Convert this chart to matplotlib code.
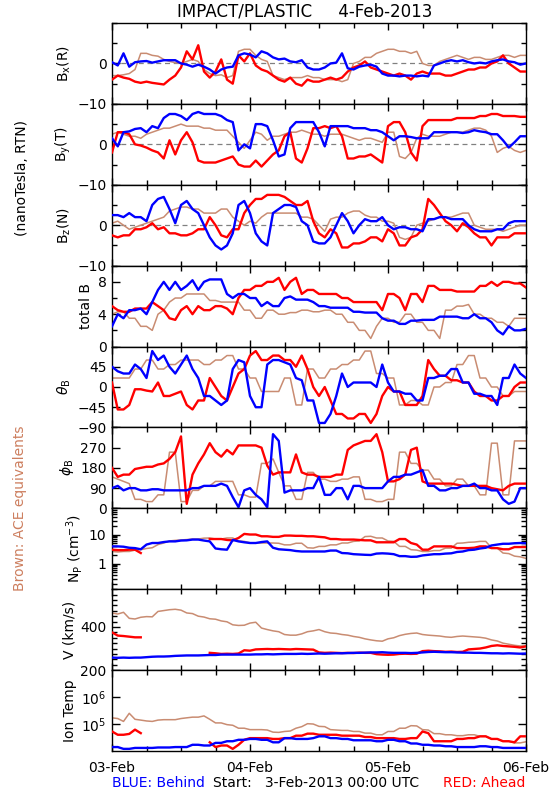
import numpy as np
import matplotlib
matplotlib.use("Agg")
import matplotlib.pyplot as plt
from matplotlib.ticker import FixedLocator, FixedFormatter, MultipleLocator, NullFormatter, LogLocator, NullLocator

nan = np.nan
hours = np.arange(73)  # hours since 3-Feb-2013 00:00 UTC

day_ticks = [0, 24, 48, 72]
day_labels = ["03-Feb", "04-Feb", "05-Feb", "06-Feb"]

# ---- B_x (R) ----
bx_behind = [0.3,-0.5,2.5,-0.8,0.3,0.5,0.6,0.2,0.5,0.8,
             0.8,0.8,0.0,-0.3,-0.8,-0.3,-0.8,-1.5,-2.5,-1.5,
             -1.0,-0.8,2.0,2.5,2.2,1.5,3.0,2.5,1.5,1.0,
             1.2,0.5,0.3,0.8,-1.0,-1.5,-1.5,-1.0,0.0,0.2,
             2.5,-1.2,-1.5,-0.8,-0.5,-0.3,-0.8,-2.5,-3.0,-3.0,
             -3.2,-3.0,-3.0,-3.2,-3.0,-3.2,-0.5,0.0,0.5,0.8,
             0.5,0.8,0.3,0.0,0.2,0.0,0.5,0.8,1.0,0.5,
             0.3,-0.3,0.0]
bx_ahead = [-4.0,-3.0,-3.5,-3.8,-4.5,-4.8,-4.5,-4.8,-5.0,-5.2,
            -4.0,-3.0,-1.0,3.0,1.0,4.5,-2.0,-3.5,-2.0,1.0,
            -4.0,-5.0,2.0,0.5,2.5,-0.5,-1.5,-2.0,-3.0,-4.0,
            -4.5,-3.5,-5.0,-5.5,-4.0,-4.5,-4.5,-4.0,-3.5,-4.0,
            -3.5,-2.0,-1.0,-0.5,0.5,-1.0,-1.5,-2.0,-2.5,-3.0,
            -2.5,-3.0,-4.0,-2.5,-2.0,-2.5,-2.5,-2.5,-3.0,-3.0,
            -2.5,-2.0,-1.5,-1.5,-1.0,-1.0,0.0,0.5,2.0,0.0,
            -1.0,-2.0,-2.0]
bx_ace = [-3.0,-3.0,-2.8,-2.5,-1.5,2.5,2.5,2.0,1.8,1.0,
          0.5,0.2,0.0,0.5,1.0,0.5,-1.5,-2.5,-3.0,-2.8,
          -3.5,-3.0,3.0,3.5,3.5,2.0,1.0,0.5,-3.0,-3.5,
          -4.0,-3.5,-3.5,-3.5,-3.0,-3.5,-3.5,-4.0,-4.0,-4.0,
          -4.5,-4.0,0.0,0.5,1.5,1.5,2.5,3.0,3.5,3.5,
          3.0,3.0,2.5,3.0,0.0,-0.5,-0.5,0.5,1.0,1.5,
          2.0,1.5,1.0,1.5,1.5,1.0,1.0,1.5,2.0,2.0,
          1.5,2.0,2.0]

# ---- B_y (T) ----
by_behind = [1.5,-0.5,3.0,3.2,3.8,4.0,3.0,4.5,4.0,6.5,
             7.5,7.5,7.0,6.0,7.5,8.0,7.5,7.5,7.5,7.0,
             6.0,5.5,-1.5,0.0,-1.0,5.0,5.0,4.5,1.0,-3.0,
             -2.5,4.0,5.5,5.5,5.5,5.5,3.0,-0.5,4.5,4.5,
             4.5,4.5,4.0,4.0,4.0,3.5,3.5,3.0,2.0,1.0,
             2.0,2.0,1.8,1.5,1.5,1.5,3.0,3.0,3.0,3.0,
             3.0,2.8,3.0,3.5,3.2,3.0,2.5,2.5,1.0,-0.8,
             0.5,2.0,2.0]
by_ahead = [-2.0,3.0,3.0,2.5,0.0,-0.3,-0.8,-1.5,-2.0,-3.5,
            1.0,-2.5,1.0,3.0,0.5,-4.0,-4.5,-4.5,-4.5,-4.0,
            -3.5,-3.0,-5.0,-5.5,-5.5,-4.0,-5.5,-4.0,-2.5,-1.5,
            2.0,3.0,-3.5,-4.5,-1.0,4.0,4.0,4.5,4.0,4.5,
            2.0,-3.5,-3.5,-3.0,-3.0,-2.5,-3.5,-4.5,4.5,5.5,
            5.5,3.0,-2.0,-4.0,4.5,6.0,6.0,6.0,6.0,6.0,
            6.5,6.5,6.5,6.5,7.0,7.0,7.5,7.5,7.0,7.0,
            7.0,6.8,6.8]
by_ace = [2.5,3.0,2.5,2.0,2.0,1.5,2.5,3.0,3.5,4.0,
          4.0,4.5,5.0,4.5,4.5,4.5,4.0,4.0,3.5,3.5,
          3.5,2.0,0.5,-1.0,1.0,3.0,2.5,1.0,2.0,2.0,
          2.5,3.0,3.0,3.5,3.0,2.5,2.5,2.0,2.5,2.5,
          2.5,2.0,1.5,1.0,1.5,1.5,1.0,0.5,3.0,3.0,
          -3.0,-3.5,-2.0,1.5,2.5,2.0,2.0,2.0,2.5,3.0,
          3.0,3.0,3.5,4.0,4.0,3.5,2.0,-2.0,-1.0,-0.5,
          -1.5,-2.0,-1.5]

# ---- B_z (N) ----
bz_behind = [2.5,2.5,2.0,3.0,2.0,2.0,1.0,5.0,6.5,7.0,
             4.0,0.5,5.0,6.0,4.0,3.0,0.0,-3.0,-5.0,-6.0,
             -5.0,-2.0,5.0,6.0,3.0,-2.0,-4.0,-5.0,3.0,4.0,
             5.0,5.0,4.5,1.0,0.0,-4.0,-4.5,-4.5,-3.0,0.0,
             3.0,1.0,-2.0,0.0,1.5,1.0,1.0,2.0,0.0,-1.0,
             -0.5,-0.5,-1.0,-1.0,-1.5,1.5,1.5,2.0,2.0,1.5,
             1.5,1.5,0.0,-1.0,-1.5,-1.5,-1.5,-1.0,-1.0,0.5,
             1.0,1.0,1.0]
bz_ahead = [-2.5,-3.0,-2.5,-2.5,-1.0,-1.0,-0.5,0.5,-1.0,-0.5,
            -2.0,-2.0,-2.5,-2.5,-2.0,-1.0,-1.0,2.0,0.0,-2.5,
            -3.0,-1.0,-1.0,3.0,5.0,6.5,6.5,7.5,7.5,7.5,
            7.0,6.0,5.0,5.0,6.0,1.0,-2.0,-3.0,-1.0,-2.0,
            -5.5,-5.5,-4.5,-4.5,-4.0,-3.0,-3.0,-4.0,-1.0,-2.0,
            -5.0,-5.0,-3.0,-2.5,-1.0,6.5,5.0,3.0,1.0,0.0,
            -1.5,0.5,-0.5,-2.0,-3.0,-3.0,-5.0,-3.0,-3.0,-3.0,
            -2.0,-2.0,-2.0]
bz_ace = [0.5,1.0,0.0,-1.0,-0.5,0.0,0.5,1.0,1.5,2.0,
          3.5,4.0,4.5,4.5,4.0,4.0,3.0,3.0,3.0,4.0,
          4.0,2.0,1.0,0.0,1.0,0.5,2.0,3.0,3.0,3.0,
          3.0,3.0,3.0,2.0,2.0,1.5,0.0,-1.5,1.5,2.0,
          2.0,3.0,3.5,3.5,2.5,2.0,2.0,1.0,1.0,0.5,
          -3.0,-3.5,-3.0,0.0,0.5,1.0,1.5,2.0,2.0,2.0,
          2.5,3.0,3.0,0.0,-0.5,-1.0,-1.0,-1.0,-1.5,-1.0,
          -0.5,0.0,0.0]

# ---- total B ----
bt_behind = [2.5,4.0,3.5,4.5,4.5,4.7,4.0,5.5,7.0,8.0,
             7.0,8.0,7.0,7.5,8.2,7.0,8.0,8.3,8.3,8.3,
             6.5,6.0,6.5,6.5,6.0,6.0,5.0,5.5,5.0,5.0,
             6.0,6.2,5.8,5.8,5.8,5.5,5.0,5.0,4.8,4.8,
             4.8,4.8,4.3,4.3,4.2,4.2,4.2,3.5,3.2,3.2,
             2.8,2.8,3.2,3.2,3.3,3.3,3.3,3.7,3.7,3.7,
             3.7,3.5,3.5,4.0,3.5,3.5,3.0,2.0,1.5,2.5,
             2.0,2.0,2.2]
bt_ahead = [5.0,4.5,4.3,4.3,4.7,4.7,4.7,5.5,5.0,4.5,
            3.5,3.3,4.5,5.0,4.0,5.0,4.5,4.5,5.0,5.0,
            4.7,4.0,6.0,7.0,7.0,7.5,7.5,8.0,8.0,8.5,
            7.0,8.0,8.5,6.5,7.0,7.0,6.5,6.5,6.5,6.5,
            6.0,6.0,5.5,5.5,5.5,5.5,5.5,4.5,6.5,6.5,
            6.0,4.5,6.5,6.5,5.5,7.5,7.5,7.0,7.0,7.0,
            6.8,6.8,6.8,6.8,7.5,7.5,8.0,7.5,8.0,8.0,
            7.8,7.8,7.3]
bt_ace = [4.0,4.3,4.3,3.5,3.5,2.5,2.5,2.0,4.0,4.5,
          5.5,6.0,6.0,6.5,6.5,6.5,6.5,5.7,5.7,5.5,
          5.5,5.5,5.5,4.5,4.5,3.5,3.5,4.5,4.5,4.0,
          4.0,4.2,4.2,4.5,4.5,4.3,4.3,4.5,4.5,4.0,
          4.0,3.0,3.0,2.0,2.0,1.0,2.5,3.5,3.5,3.0,
          3.0,4.0,4.0,3.0,3.0,2.0,2.0,1.0,4.5,4.5,
          5.0,5.0,5.2,4.0,4.0,3.5,3.5,3.0,3.0,2.5,
          3.5,3.5,3.5]

# ---- theta_B (deg) ----
th_behind = [45,35,30,30,50,40,20,80,60,70,
             45,30,50,70,40,20,-20,-20,-30,-40,
             -30,40,60,55,-20,-45,-45,50,60,60,
             55,50,20,15,-30,-30,-80,-80,-60,-20,
             30,0,10,10,10,10,0,50,10,-10,
             -10,-15,-15,-30,-30,20,20,25,25,40,
             40,10,10,-15,-15,-20,-20,-40,20,20,
             50,30,20]
th_ahead = [10,-50,-50,-40,-5,-5,-8,-10,10,-20,
            -20,-15,-10,-40,-50,-30,-30,20,0,-20,
            -30,0,30,40,70,80,60,60,70,70,
            60,60,45,70,40,0,-20,0,-30,-60,
            -60,-70,-70,-60,-60,-80,-60,-20,0,-10,
            -10,-40,-40,-40,-20,60,40,25,25,15,
            15,10,10,-10,-20,-20,-30,-30,-20,-20,
            0,10,10]
th_ace = [20,20,20,20,40,40,60,60,40,40,
          50,50,60,60,60,60,50,50,60,60,
          70,70,40,40,20,20,-10,-10,-10,-10,
          20,20,-40,-40,40,40,20,20,40,40,
          50,50,60,60,80,80,30,30,20,20,
          -40,-40,-30,-30,-40,-40,0,0,10,10,
          50,50,70,70,20,20,0,0,-20,-20,
          -10,-10,-10]

# ---- phi_B (deg) ----
ph_behind = [90,100,80,90,90,80,80,85,85,80,
             80,80,80,80,90,90,100,100,100,110,
             100,50,5,80,90,60,40,5,330,300,
             70,80,80,80,90,90,140,60,60,90,
             90,40,100,100,90,90,90,90,120,140,
             140,150,150,160,170,100,100,80,80,90,
             90,100,100,110,90,90,80,80,40,20,
             30,90,90]
ph_ahead = [180,140,150,150,175,180,185,185,195,200,
            220,250,320,20,150,200,240,290,250,230,
            260,240,280,280,280,280,270,190,150,160,
            160,160,240,160,150,150,140,140,140,150,
            150,260,280,290,300,300,330,250,120,120,
            130,150,260,270,120,110,110,110,110,110,
            105,100,100,100,100,100,90,85,80,100,
            110,110,110]
ph_ace = [140,130,120,110,40,40,30,30,60,60,
          250,250,30,30,80,80,100,100,120,120,
          120,120,60,60,50,50,200,200,220,160,
          100,100,40,40,160,160,130,130,120,120,
          130,130,140,140,40,40,30,30,40,40,
          250,250,200,200,170,170,130,130,100,100,
          130,130,100,100,60,60,290,290,60,60,
          300,300,300]

# ---- N_p (cm^-3) ----
np_behind = [3.9,3.9,3.8,3.5,3.4,3.1,4.5,5.1,5.1,5.5,
             5.8,5.8,6.2,6.3,6.7,6.7,6.2,5.8,3.3,3.1,
             3.0,6.5,5.8,5.4,5.1,5.1,5.5,5.8,3.5,3.1,
             3.0,2.9,2.7,2.6,2.6,2.6,2.6,2.6,2.8,2.8,
             2.3,2.25,2.1,2.05,2.0,1.97,2.2,2.25,2.2,2.1,
             1.8,1.8,1.7,1.72,1.9,2.0,2.1,2.1,2.2,2.25,
             2.5,2.6,2.9,3.0,3.3,3.5,4.2,4.5,4.8,4.8,
             5.0,5.1,5.0]
np_ahead = [3.0,2.9,2.9,3.0,3.0,2.3,nan,nan,nan,nan,
            nan,nan,nan,nan,nan,nan,nan,7.0,7.0,7.0,
            6.5,6.3,7.6,10.5,10.0,10.0,8.7,8.7,8.3,8.3,
            9.2,9.2,9.0,9.0,8.7,8.7,8.3,8.0,7.0,7.0,
            6.7,6.7,6.7,6.5,6.3,6.3,5.4,5.4,5.4,5.4,
            7.0,7.0,5.1,4.5,3.0,3.0,3.9,3.9,3.9,3.9,
            3.4,3.4,3.4,3.5,3.9,3.9,3.4,3.4,3.1,3.1,
            3.7,3.7,3.7]
np_ace = [2.6,2.5,2.6,2.6,2.9,3.0,3.3,3.5,4.5,5.1,
          6.0,6.3,6.5,6.7,7.0,7.0,7.5,7.6,7.0,7.0,
          7.6,7.6,6.0,5.8,5.2,5.1,5.1,5.1,5.1,5.0,
          4.4,4.4,5.0,5.0,3.5,3.4,3.9,3.9,4.4,4.4,
          5.1,5.1,5.8,6.0,8.5,8.7,7.6,7.6,6.0,5.8,
          3.9,3.9,3.0,2.9,2.6,2.6,2.8,2.8,3.4,3.4,
          5.0,5.1,5.4,5.5,5.8,5.8,3.5,3.4,2.3,2.2,
          1.8,1.7,1.5]

# ---- V (km/s) ----
v_behind = [258,257,258,257,258,258,260,262,263,263,
            264,266,267,268,268,268,269,270,270,272,
            272,272,272,272,272,273,273,274,273,274,
            275,275,275,276,275,276,277,276,277,278,
            278,279,280,280,281,282,282,283,281,280,
            280,280,279,280,282,284,285,284,283,283,
            282,281,281,280,280,279,278,278,277,278,
            277,276,277]
v_ahead = [375,360,358,355,352,352,nan,nan,nan,nan,
           nan,nan,nan,nan,nan,nan,nan,280,278,275,
           276,275,277,292,290,296,297,298,297,298,
           297,296,298,297,296,295,282,280,281,280,
           279,280,279,281,280,280,274,272,271,272,
           275,276,275,276,288,290,288,287,285,286,
           284,285,296,298,300,305,312,315,312,310,
           308,305,310]
v_ace = [465,460,468,440,437,445,448,447,472,476,
         480,482,478,465,462,450,446,438,436,428,
         424,410,407,408,418,422,395,388,382,378,
         365,362,362,368,378,382,388,378,372,370,
         365,362,356,352,345,340,336,334,345,350,
         360,366,370,372,365,362,360,358,354,352,
         356,358,356,354,352,348,340,335,325,320,
         315,312,312]

# ---- Ion temperature (K) ----
t_behind = [1.4e4,1.4e4,1.2e4,1.2e4,1.3e4,1.3e4,1.3e4,1.3e4,1.35e4,1.35e4,
            1.35e4,1.4e4,1.4e4,1.4e4,1.7e4,1.7e4,1.6e4,1.6e4,2.0e4,2.0e4,
            2.3e4,2.3e4,2.6e4,2.6e4,2.8e4,2.8e4,2.6e4,2.6e4,2.1e4,2.1e4,
            3.0e4,3.0e4,2.8e4,2.8e4,2.8e4,3.0e4,3.5e4,3.5e4,3.0e4,3.0e4,
            2.8e4,2.8e4,2.5e4,2.5e4,2.5e4,2.5e4,2.3e4,2.3e4,2.6e4,2.6e4,
            2.3e4,2.3e4,1.9e4,1.9e4,1.7e4,1.7e4,1.6e4,1.6e4,1.5e4,1.5e4,
            1.4e4,1.4e4,1.4e4,1.4e4,1.5e4,1.5e4,1.4e4,1.4e4,1.3e4,1.3e4,
            1.3e4,1.3e4,1.3e4]
t_ahead = [5.3e4,4.0e4,4.0e4,4.3e4,6.2e4,4.6e4,nan,nan,nan,nan,
           nan,nan,nan,nan,nan,nan,nan,2.1e4,1.4e4,1.6e4,
           1.6e4,1.2e4,1.7e4,2.6e4,3.0e4,3.0e4,3.0e4,3.0e4,2.8e4,2.8e4,
           3.0e4,3.0e4,3.7e4,3.7e4,4.4e4,4.4e4,4.0e4,4.0e4,4.0e4,4.0e4,
           3.7e4,3.7e4,3.7e4,3.7e4,3.3e4,3.3e4,3.0e4,3.0e4,3.0e4,3.0e4,
           2.8e4,2.8e4,3.0e4,3.0e4,5.3e4,4.6e4,2.3e4,2.3e4,2.3e4,2.3e4,
           2.8e4,2.8e4,3.0e4,3.0e4,3.5e4,3.5e4,2.8e4,2.8e4,2.3e4,2.3e4,
           2.1e4,3.5e4,3.5e4]
t_ace = [1.7e5,1.6e5,1.25e5,2.5e5,1.5e5,1.4e5,1.3e5,1.25e5,1.4e5,1.45e5,
         1.45e5,1.45e5,1.6e5,1.7e5,1.8e5,1.8e5,2.0e5,1.5e5,1.1e5,1.1e5,
         9.5e4,9.0e4,7.0e4,7.0e4,6.2e4,6.2e4,6.2e4,6.0e4,5.0e4,4.9e4,
         5.3e4,5.5e4,7.0e4,8.0e4,1.03e5,1.0e5,8.2e4,8.0e4,6.2e4,6.0e4,
         5.8e4,5.8e4,5.3e4,5.3e4,4.6e4,4.6e4,4.0e4,4.0e4,5.3e4,5.3e4,
         7.0e4,7.0e4,8.7e4,8.5e4,6.2e4,6.0e4,4.4e4,4.4e4,4.0e4,4.0e4,
         3.7e4,3.7e4,4.0e4,4.0e4,3.5e4,3.5e4,2.8e4,2.8e4,2.3e4,2.3e4,
         2.0e4,2.0e4,2.2e4]

# ------------------------------------------------------------------
RED = "#FF0000"
BLUE = "#0000FF"
BROWN = "#C98C72"
BROWN_TXT = "#CD7F5F"

panels = [
    dict(label=r"B$_{\rm x}$(R)", data=(bx_ace, bx_ahead, bx_behind), ylim=(-10, 10),
         major=[-10, 0], labels=["\u221210", "0"], minor=[-5, 5, 10], zero=True),
    dict(label=r"B$_{\rm y}$(T)", data=(by_ace, by_ahead, by_behind), ylim=(-10, 10),
         major=[-10, 0], labels=["\u221210", "0"], minor=[-5, 5, 10], zero=True),
    dict(label=r"B$_{\rm z}$(N)", data=(bz_ace, bz_ahead, bz_behind), ylim=(-10, 10),
         major=[-10, 0], labels=["\u221210", "0"], minor=[-5, 5, 10], zero=True),
    dict(label="total B", data=(bt_ace, bt_ahead, bt_behind), ylim=(0, 10),
         major=[0, 4, 8], labels=["0", "4", "8"], minor=[2, 6, 10]),
    dict(label=r"$\theta_{\rm B}$", data=(th_ace, th_ahead, th_behind), ylim=(-90, 90),
         major=[-90, -45, 0, 45], labels=["\u221290", "\u221245", "0", "45"], minor=[90]),
    dict(label=r"$\phi_{\rm B}$", data=(ph_ace, ph_ahead, ph_behind), ylim=(0, 360),
         major=[0, 90, 180, 270], labels=["0", "90", "180", "270"], minor=[360]),
    dict(label=r"N$_{\rm P}$ (cm$^{-3}$)", data=(np_ace, np_ahead, np_behind), ylim=(0.13, 80),
         major=[1, 10], labels=["1", "10"], log=True, logminor=True),
    dict(label="V (km/s)", data=(v_ace, v_ahead, v_behind), ylim=(200, 575),
         major=[200, 400], labels=["200", "400"], minor=list(range(225, 576, 25))),
    dict(label="Ion Temp", data=(t_ace, t_ahead, t_behind), ylim=(1e4, 1e7),
         major=[1e5, 1e6], labels=[r"10$^5$", r"10$^6$"], log=True),
]

W, H = 550, 800
fig = plt.figure(figsize=(W / 100, H / 100), dpi=100)

left_px, right_px = 112, 526
top_px, bot_px = 23, 751
ph = (bot_px - top_px) / len(panels)

for i, p in enumerate(panels):
    t = top_px + i * ph
    ax = fig.add_axes([left_px / W, 1 - (t + ph) / H, (right_px - left_px) / W, ph / H])
    if p.get("log"):
        ax.set_yscale("log")
    if p.get("zero"):
        ax.axhline(0, color="#808080", lw=0.9, ls=(0, (4, 3)), zorder=1)
    ace, ahead, behind = p["data"]
    ax.plot(hours, ace, color=BROWN, lw=1.1, zorder=2)
    ax.plot(hours, ahead, color=RED, lw=1.7, zorder=3)
    ax.plot(hours, behind, color=BLUE, lw=1.7, zorder=4)
    ax.set_xlim(0, 72)
    ax.set_ylim(*p["ylim"])

    ax.yaxis.set_major_locator(FixedLocator(p["major"]))
    ax.yaxis.set_major_formatter(FixedFormatter(p["labels"]))
    if p.get("logminor"):
        ax.yaxis.set_minor_locator(LogLocator(base=10, subs=np.arange(2, 10)))
    elif "minor" in p:
        ax.yaxis.set_minor_locator(FixedLocator(p["minor"]))
    else:
        ax.yaxis.set_minor_locator(NullLocator())
    ax.yaxis.set_minor_formatter(NullFormatter())

    ax.xaxis.set_major_locator(FixedLocator(day_ticks))
    ax.xaxis.set_minor_locator(MultipleLocator(6))
    if i == len(panels) - 1:
        ax.xaxis.set_major_formatter(FixedFormatter(day_labels))
    else:
        ax.xaxis.set_major_formatter(NullFormatter())

    ax.tick_params(which="major", direction="in", top=True, right=True,
                   length=6, width=1, labelsize=10, pad=4)
    ax.tick_params(which="minor", direction="in", top=True, right=True,
                   length=3.5, width=1)
    ax.tick_params(axis="x", which="major", pad=7, length=5)
    for s in ax.spines.values():
        s.set_linewidth(1)

    ax.set_ylabel(p["label"], fontsize=10, labelpad=3)

fig.text(305 / W, 1 - 12 / H, "IMPACT/PLASTIC     4-Feb-2013", ha="center", va="center", fontsize=12)
fig.text(22 / W, 1 - 178 / H, "(nanoTesla, RTN)", rotation=90, ha="center", va="center", fontsize=10)
fig.text(20 / W, 1 - 508 / H, "Brown: ACE equivalents", rotation=90, ha="center", va="center",
         fontsize=10, color=BROWN_TXT)
fig.text(112 / W, 1 - 783 / H, "BLUE: Behind", color=BLUE, ha="left", va="center", fontsize=10)
fig.text(213 / W, 1 - 783 / H, "Start:   3-Feb-2013 00:00 UTC", color="black", ha="left", va="center", fontsize=10)
fig.text(525 / W, 1 - 783 / H, "RED: Ahead", color=RED, ha="right", va="center", fontsize=10)

fig.savefig("out.png", dpi=100)
